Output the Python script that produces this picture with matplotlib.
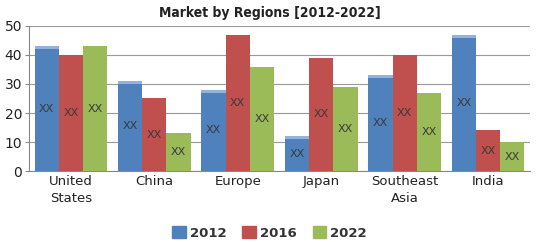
import matplotlib
matplotlib.use("Agg")
import matplotlib.pyplot as plt
import numpy as np

categories = ["United\nStates", "China", "Europe", "Japan", "Southeast\nAsia", "India"]
series_names = ["2012", "2016", "2022"]
v2012 = [43, 31, 28, 12, 33, 47]
v2016 = [40, 25, 47, 39, 40, 14]
v2022 = [43, 13, 36, 29, 27, 10]
colors = ["#4F81BD", "#C0504D", "#9BBB59"]

fig = plt.figure(figsize=(5.39, 2.42), dpi=100)
ax = fig.add_axes([0.054, 0.293, 0.929, 0.6])

x = np.arange(len(categories))
w = 0.29
for i, (vals, c) in enumerate(zip([v2012, v2016, v2022], colors)):
    pos = x + (i - 1) * w
    ax.bar(pos, vals, width=w, color=c, label=series_names[i], zorder=3)
    if i == 0:
        for p, v in zip(pos, vals):
            ax.bar(p, 1.1, bottom=v - 1.1, width=w, color="#93B3DC", zorder=4)
    for p, v in zip(pos, vals):
        ax.text(p, v / 2, "XX", ha="center", va="center", fontsize=8,
                color="#3a3a3a", zorder=5)

ax.set_xlim(-0.5, len(categories) - 0.5)
ax.set_ylim(0, 50)
ax.set_yticks(range(0, 51, 10))
ax.set_xticks(x)
ax.set_xticklabels(categories, fontsize=9.5, color="#222222", linespacing=1.35)
ax.tick_params(axis="y", labelsize=10, colors="#222222", length=3, color="#888888", pad=2)
ax.tick_params(axis="x", length=0, pad=3)
ax.yaxis.grid(True, color="#999999", linewidth=0.8, zorder=0)
ax.set_axisbelow(True)
for s in ["top", "right"]:
    ax.spines[s].set_visible(False)
for s in ["left", "bottom"]:
    ax.spines[s].set_color("#888888")

fig.text(0.5, 0.948, "Market by Regions [2012-2022]", ha="center", va="center",
         fontsize=10, fontweight="heavy", fontstretch="condensed", color="#222222")

handles = [plt.Rectangle((0, 0), 1, 1, color=c) for c in colors]
fig.legend(handles, series_names, loc="center", bbox_to_anchor=(0.5, 0.037),
           ncol=3, frameon=False, prop={"size": 9.5, "weight": "semibold"},
           handlelength=1.05, handleheight=1.05, columnspacing=1.2, handletextpad=0.3,
           borderpad=0.2)
for t in fig.legends[0].get_texts():
    t.set_color("#333333")

fig.savefig("out.png", dpi=100)
